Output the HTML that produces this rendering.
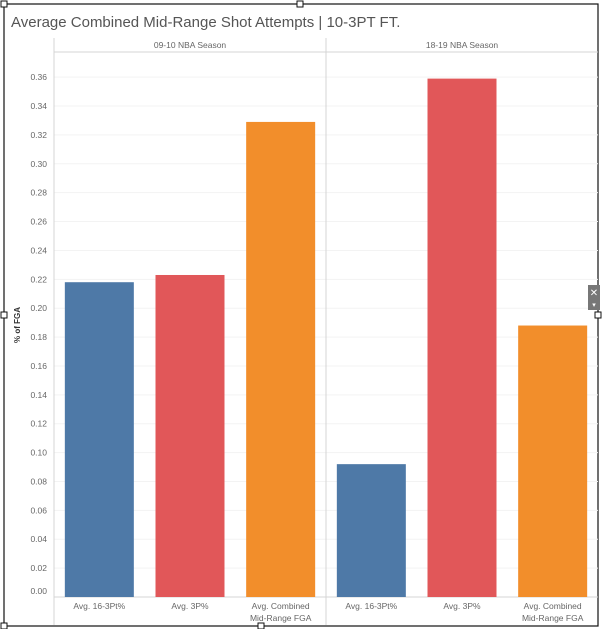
<!DOCTYPE html>
<html><head><meta charset="utf-8"><style>
body{margin:0;background:#fff;font-family:"Liberation Sans",sans-serif}
svg text{font-family:"Liberation Sans",sans-serif}
</style></head><body>
<svg id="c" width="602" height="629">
<rect x="4" y="4" width="594" height="622" fill="none" stroke="#111" stroke-width="1.2"/>
<text x="11" y="27" font-size="15" fill="#555">Average Combined Mid-Range Shot Attempts | 10-3PT FT.</text>
<text x="20" y="325" font-size="8" font-weight="bold" fill="#333" text-anchor="middle" transform="rotate(-90 20 325)">% of FGA</text>
<g id="grid"></g><g id="bars"></g><g id="labels"></g>
<rect x="588" y="285" width="12" height="25" fill="#777"/>
<text x="594" y="296" font-size="10" fill="#fff" text-anchor="middle">✕</text>
<text x="594" y="307" font-size="7" fill="#fff" text-anchor="middle">▾</text>
<rect x="1" y="1" width="6" height="6" fill="#fff" stroke="#111"/>
<rect x="297" y="1" width="6" height="6" fill="#fff" stroke="#111"/>
<rect x="595" y="312" width="6" height="6" fill="#fff" stroke="#111"/>
<rect x="1" y="623" width="6" height="6" fill="#fff" stroke="#111"/>
<rect x="258" y="623" width="6" height="6" fill="#fff" stroke="#111"/>
<rect x="1" y="312" width="6" height="6" fill="#fff" stroke="#111"/>
</svg>
<script>
const seasons=["09-10 NBA Season","18-19 NBA Season"];
const categories=["Avg. 16-3Pt%","Avg. 3P%","Avg. Combined|Mid-Range FGA"];
const season0910=[0.218,0.223,0.329];
const season1819=[0.092,0.359,0.188];
const ticks=[0,0.02,0.04,0.06,0.08,0.10,0.12,0.14,0.16,0.18,0.20,0.22,0.24,0.26,0.28,0.30,0.32,0.34,0.36];
const colors=["#4e79a7","#e15759","#f28e2b"];
const NS="http://www.w3.org/2000/svg";
const y0=597,k=1444;
const y=v=>y0-v*k;
const left=54,right=598,mid=326,pw=(mid-left);
function el(t,a,p){const e=document.createElementNS(NS,t);for(const q in a)e.setAttribute(q,a[q]);document.getElementById(p).appendChild(e);return e;}
ticks.forEach(t=>{
 const g=el("line",{x1:left,x2:right,y1:y(t),y2:y(t),stroke:"#f3f3f3"},"grid");
 
 
 const tx=el("text",{x:47,y:t===0?y(t)-3:y(t)+3,"font-size":"8.5",fill:"#666","text-anchor":"end"},"labels");
 tx.textContent=t.toFixed(2);
 
 
});
[[left,38,left,625],[mid,38,mid,625],[left,52,right,52],[left,597,right,597]].forEach(([a,b,c,d])=>{
 const l=el("line",{x1:a,y1:b,x2:c,y2:d,stroke:"#d4d4d4"},"grid");
 
 
});
[season0910,season1819].forEach((vals,s)=>{
 const x0=left+s*pw;
 const h=el("text",{x:x0+pw/2,y:48,"font-size":"8.5",fill:"#666","text-anchor":"middle"},"labels");
 h.textContent=seasons[s];
 
 
 vals.forEach((v,i)=>{
  const cx=x0+pw*(i+0.5)/3;
  const r=el("rect",{x:cx-34.5,y:y(v),width:69,height:v*k,fill:colors[i]},"bars");
  
  
  categories[i].split("|").forEach((ln,j)=>{
   const t=el("text",{x:cx,y:609+j*12,"font-size":"8.5",fill:"#666","text-anchor":"middle"},"labels");
   t.textContent=ln;
   
   
  });
 });
});
</script>
</body></html>
